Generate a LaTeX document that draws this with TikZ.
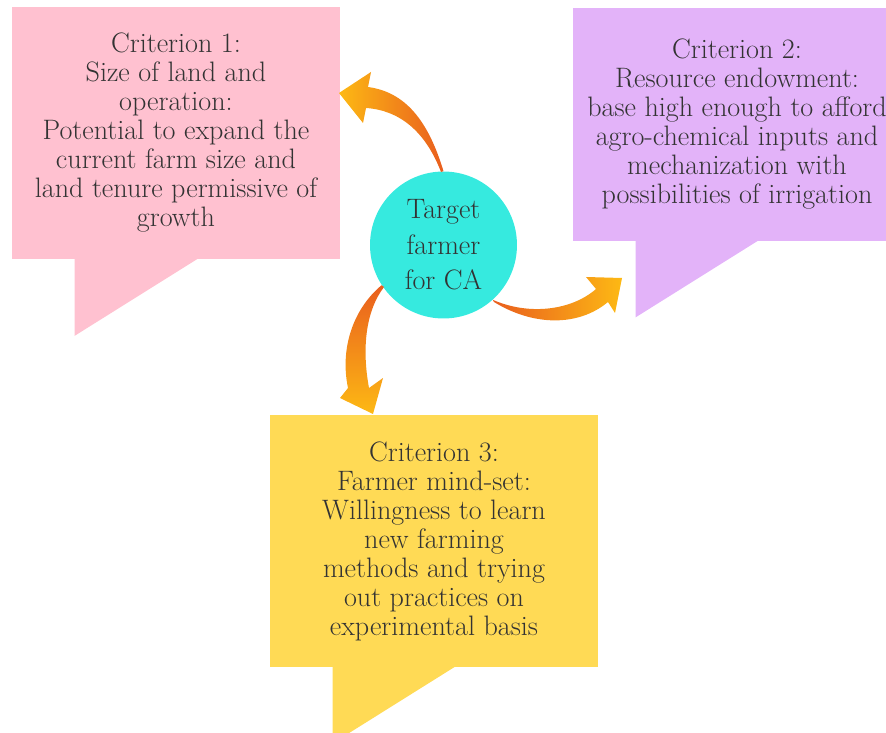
\documentclass[tikz,border=0pt]{standalone}
\definecolor{pinkbox}{HTML}{FFC1D0}
\definecolor{lilacbox}{HTML}{E3B3F9}
\definecolor{yellowbox}{HTML}{FFDA55}
\definecolor{cyanball}{HTML}{36EADF}
\definecolor{arroworg}{HTML}{E95E1E}
\definecolor{arrowyel}{HTML}{FDB914}
\definecolor{txtgray}{HTML}{333333}

% speech tail under a box
\newcommand{\calltail}[2]{%
  \fill[#2] ([xshift=1.26cm,yshift=0.02cm]#1.south west) -- ++(0,-1.54cm)
    -- ([xshift=3.72cm,yshift=0.02cm]#1.south west) -- cycle;}

\begin{document}
\begin{tikzpicture}[x=0.02cm, y=-0.02cm,
    crit/.style={rectangle, inner sep=0pt, align=center, text=txtgray,
      font=\fontsize{16pt}{16.5pt}\selectfont, minimum width=6.56cm},
    hub/.style={circle, fill=cyanball, inner sep=0pt, minimum size=2.94cm,
      align=center, text=txtgray, font=\fontsize{16pt}{20.2pt}\selectfont}
]

    \useasboundingbox (0,0) rectangle (886,733);

    % criteria boxes
    \node[crit, fill=pinkbox, minimum height=5.06cm] (c1) at (176,133)
      {Criterion 1:\\Size of land and\\operation:\\Potential to expand the\\
       current farm size and\\land tenure permissive of\\growth};
    \node[crit, fill=lilacbox, minimum height=4.66cm] (c2) at (737,124.5)
      {Criterion 2:\\Resource endowment:\\base high enough to afford\\
       agro-chemical inputs and\\mechanization with\\possibilities of irrigation};
    \node[crit, fill=yellowbox, minimum height=5.04cm] (c3) at (434,541)
      {Criterion 3:\\Farmer mind-set:\\Willingness to learn\\new farming\\
       methods and trying\\out practices on\\experimental basis};

    % tails
    \calltail{c1}{pinkbox}
    \calltail{c2}{lilacbox}
    \calltail{c3}{yellowbox}

    % centre
    \node[hub] (ca) at (443.5,245) {Target\\farmer\\for CA};

    % curved arrows
    \shade[left color=arrowyel, right color=arroworg]
      (ca.north) .. controls (428,120) and (405,92) .. (368,87)
      -- (371,72) -- (339,93) -- (363,123) -- (366,108)
      .. controls (398,110) and (425,130) .. (441,172) -- cycle;
    \shade[left color=arroworg, right color=arrowyel]
      (ca.-48) .. controls (530,316) and (572,310) .. (596,289)
      -- (586,277) -- (622,278) -- (615,313) -- (608,302)
      .. controls (578,327) and (533,326) .. (494,302) -- cycle;
    \shade[top color=arroworg, bottom color=arrowyel]
      (ca.-147) .. controls (352,310) and (340,350) .. (348,388)
      -- (340,398) -- (373,414) -- (383,378) -- (369,388)
      .. controls (362,350) and (365,312) .. (384,287) -- cycle;

\end{tikzpicture}
\end{document}
